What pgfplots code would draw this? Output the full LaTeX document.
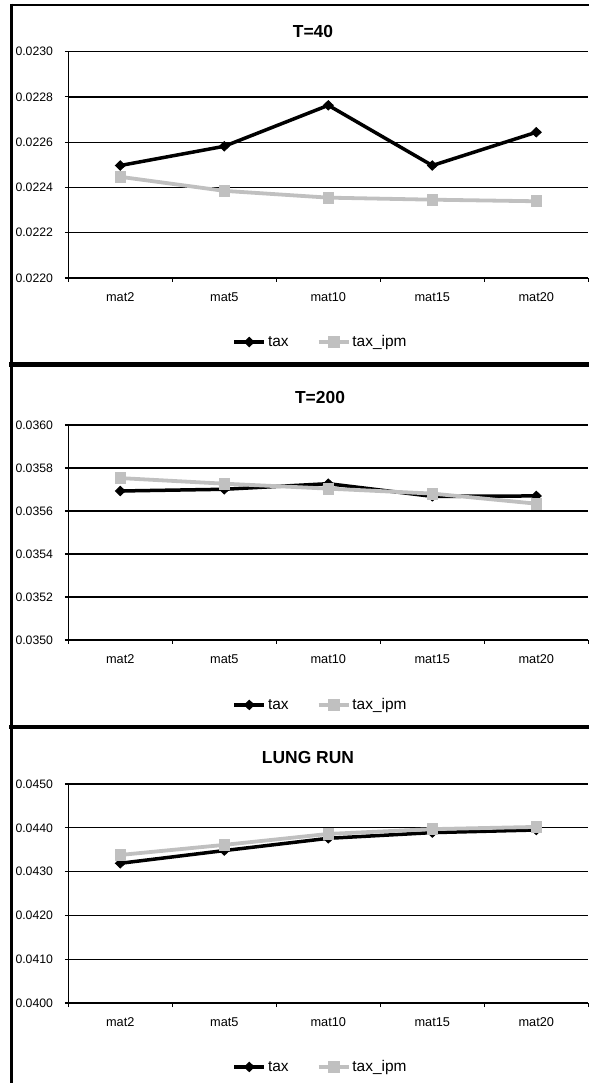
\documentclass[border=0pt]{standalone}
\usepackage{pgfplots}
\pgfplotsset{compat=1.18}
\usepackage{fontspec}
\setmainfont{Liberation Sans}
\definecolor{ipmgray}{RGB}{192,192,192}

\pgfplotsset{
 excel/.style={
  scale only axis, width=520bp,
  xmin=-0.5, xmax=4.5,
  xtick={0,1,2,3,4}, xticklabels={mat2,mat5,mat10,mat15,mat20},
  minor xtick={-0.5,0.5,1.5,2.5,3.5,4.5},
  major x tick style={draw=none},
  minor x tick style={black, line width=1.1bp},
  minor tick length=4bp,
  tick align=outside,
  major tick length=3.5bp,
  y tick style={black, line width=1.1bp},
  axis x line*=bottom, axis y line*=left,
  axis line style={black, line width=1.4bp, -},
  ymajorgrids, major grid style={black, line width=1.2bp},
  scaled y ticks=false,
  yticklabel style={/pgf/number format/fixed, /pgf/number format/fixed zerofill, /pgf/number format/precision=4, /pgf/number format/assume math mode=true},
  yticklabel style={anchor=east, inner sep=0pt, xshift=-11.6bp, font=\fontsize{12.3}{14}\selectfont},
  xticklabel style={anchor=base, inner sep=0pt, yshift=-19.7bp, font=\fontsize{12.8}{15}\selectfont},
  legend columns=2,
  legend style={draw=none, fill=none, font=\fontsize{15.5}{18}\selectfont, anchor=center,
    /tikz/every even column/.append style={column sep=26bp}},
  legend image code/.code={\draw[mark repeat=2,mark phase=2,#1] plot coordinates {(0bp,0bp) (15bp,0bp) (30bp,0bp)};},
  clip=false,
 },
 taxstyle/.style={black, line width=3.5bp, mark=diamond*, mark size=4.6bp, mark options={solid, xscale=1.4, fill=black, line width=1bp}},
 ipmstyle/.style={ipmgray, line width=3.8bp, mark=square*, mark size=5.4bp, mark options={solid, fill=ipmgray, line width=0.8bp}},
}

\begin{document}
\begin{tikzpicture}[x=1bp,y=1bp]
\useasboundingbox (0,0) rectangle (589,1083);

% frame lines
\draw[line width=2.2bp] (11.3,1078.3) -- (589,1078.3);
\draw[line width=2.4bp] (11.3,1079.4) -- (11.3,0);
\draw[line width=5bp] (9,718.5) -- (589,718.5);
\draw[line width=4.5bp] (9,356) -- (589,356);

% titles
\node[font=\fontsize{17.5}{20}\selectfont\bfseries] at (313,1051) {T=40};
\node[font=\fontsize{17.5}{20}\selectfont\bfseries] at (320,685) {T=200};
\node[font=\fontsize{17.5}{20}\selectfont\bfseries] at (308,325) {LUNG RUN};

% Panel 1
\begin{axis}[excel, at={(68.3bp,805bp)}, anchor=south west, height=226.3bp,
  ymin=0.0220, ymax=0.0230, ytick={0.0220,0.0222,0.0224,0.0226,0.0228,0.0230},
  legend style={at={(0.485,-0.283)}}]
\addplot[taxstyle] coordinates {(0,0.022497) (1,0.022582) (2,0.022763) (3,0.022497) (4,0.022644)};
\addlegendentry{tax}
\addplot[ipmstyle] coordinates {(0,0.022447) (1,0.022385) (2,0.022355) (3,0.022346) (4,0.022339)};
\addlegendentry{tax\_ipm}
\end{axis}

% Panel 2
\begin{axis}[excel, at={(68.3bp,443bp)}, anchor=south west, height=215bp,
  ymin=0.0350, ymax=0.0360, ytick={0.0350,0.0352,0.0354,0.0356,0.0358,0.0360},
  legend style={at={(0.485,-0.302)}}]
\addplot[taxstyle] coordinates {(0,0.035693) (1,0.035701) (2,0.035727) (3,0.035668) (4,0.035670)};
\addlegendentry{tax}
\addplot[ipmstyle] coordinates {(0,0.035753) (1,0.035727) (2,0.035704) (3,0.035681) (4,0.035634)};
\addlegendentry{tax\_ipm}
\end{axis}

% Panel 3
\begin{axis}[excel, at={(68.3bp,80bp)}, anchor=south west, height=219bp,
  ymin=0.0400, ymax=0.0450, ytick={0.0400,0.0410,0.0420,0.0430,0.0440,0.0450},
  legend style={at={(0.485,-0.292)}}]
\addplot[taxstyle] coordinates {(0,0.04319) (1,0.04348) (2,0.04376) (3,0.04389) (4,0.04395)};
\addlegendentry{tax}
\addplot[ipmstyle] coordinates {(0,0.04338) (1,0.04361) (2,0.04386) (3,0.04397) (4,0.04402)};
\addlegendentry{tax\_ipm}
\end{axis}
\end{tikzpicture}
\end{document}
